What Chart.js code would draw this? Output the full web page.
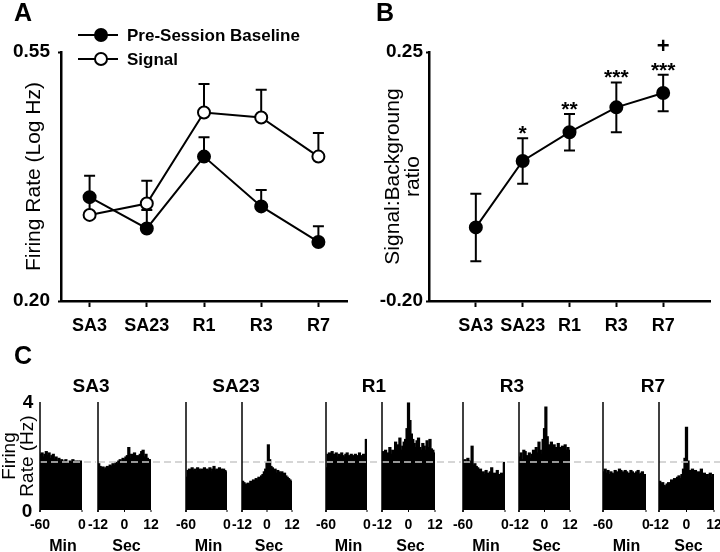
<!DOCTYPE html>
<html><head><meta charset="utf-8">
<script src="https://cdn.jsdelivr.net/npm/chart.js@4.4.1/dist/chart.umd.min.js"></script>
<style>
html,body{margin:0;padding:0;background:#fff;}
#root{position:relative;width:720px;height:552px;overflow:hidden;font-family:"Liberation Sans",Arial,sans-serif;color:#000;}
canvas{position:absolute;}
.t{position:absolute;white-space:nowrap;line-height:1;transform:translate(-50%,-50%);}
.b{font-weight:bold;}
.n{font-family:"Liberation Sans Narrow","Liberation Sans",Arial,sans-serif;font-weight:bold;}
</style></head><body><div id="root"></div>
<script>
// ---------- data ----------
const categories = ['SA3','SA23','R1','R3','R7'];
const baselineMean = [0.346,0.302,0.403,0.333,0.283];
const baselineSEM  = [0.030,0.026,0.027,0.023,0.022];
const signalMean   = [0.321,0.337,0.465,0.458,0.403];
const signalSEM    = [0.025,0.032,0.040,0.039,0.033];
const ratioMean    = [-0.067,0.053,0.105,0.150,0.176];
const ratioSEM     = [0.061,0.041,0.033,0.045,0.033];
const sigStars     = ['','*','**','***','***'];
const sigPlus      = ['','','','','+'];
const yTicksA = [0.20,0.55];
const yTicksB = [-0.20,0.25];
const histMinTicks = ['-60','0'];
const histSecTicks = ['-12','0','12'];
const histYTicks = ['0','4'];
const psthBaseline = 1.78;

const sa3Min  = [2.05,2.1,1.95,2.05,2.15,2.0,2.1,1.9,2.0,2.05,1.85,1.95,1.8,1.9,1.75,1.85,1.7,1.8,1.85,1.75,1.7,1.8,1.75,1.85,1.7,1.8,1.75,1.8,1.7,1.8];
const sa3Sec  = [1.7,1.6,1.55,1.58,1.5,1.55,1.6,1.55,1.65,1.6,1.7,1.65,1.75,1.7,1.8,1.85,1.75,1.9,1.85,1.95,2.0,2.3,1.9,2.05,1.95,2.1,1.9,2.0,1.95,2.05,2.15,2.2,1.95,2.05,1.9,1.85,1.85];
const sa23Min = [1.2,1.45,1.5,1.4,1.55,1.45,1.5,1.4,1.55,1.5,1.45,1.5,1.4,1.55,1.45,1.5,1.45,1.55,1.4,1.5,1.6,1.45,1.5,1.4,1.55,1.5,1.4,1.5,1.45,1.4];
const sa23Sec = [1.05,1.0,0.95,0.92,0.98,0.95,1.05,1.0,1.1,1.05,1.15,1.1,1.2,1.15,1.25,1.3,1.4,1.5,1.75,2.4,1.85,1.6,1.55,1.45,1.5,1.35,1.45,1.4,1.35,1.4,1.3,1.35,1.25,1.2,1.15,1.1,1.05];
const r1Min   = [1.55,2.05,2.1,2.0,2.15,2.05,2.0,2.1,1.95,2.05,2.0,2.1,2.0,1.95,2.05,2.1,2.0,1.95,2.05,2.0,1.9,2.05,2.0,1.95,2.1,2.0,1.95,2.05,2.0,2.6];
const r1Sec   = [2.15,2.05,2.2,2.0,2.1,2.3,2.05,2.2,1.95,2.5,2.1,2.4,2.65,2.2,2.35,2.5,2.6,3.0,3.95,3.3,2.8,2.6,2.45,2.3,2.55,2.65,2.3,2.2,2.45,2.35,2.2,2.55,2.3,2.6,2.25,2.2,2.1];
const r3Min   = [1.8,1.85,1.75,1.9,1.8,1.7,2.35,1.65,1.7,1.6,1.55,1.45,1.5,1.35,1.4,1.3,1.45,1.35,1.25,1.4,1.55,1.3,1.35,1.25,1.45,1.3,1.2,1.35,1.25,1.75];
const r3Sec   = [1.95,2.1,1.85,2.2,2.15,2.0,1.8,2.1,1.9,2.05,2.2,2.0,2.3,2.1,2.5,2.2,2.05,2.6,3.0,3.8,2.7,2.4,2.3,2.5,2.2,2.4,2.3,2.15,2.45,2.3,2.2,2.35,2.1,2.4,2.2,2.3,2.2];
const r7Min   = [1.4,1.5,1.35,1.45,1.3,1.4,1.35,1.3,1.45,1.4,1.35,1.5,1.45,1.4,1.35,1.45,1.4,1.3,1.35,1.45,1.4,1.3,1.35,1.4,1.45,1.3,1.35,1.4,1.25,1.3];
const r7Sec   = [1.05,0.95,1.0,0.9,0.85,0.95,1.0,0.95,1.1,1.05,1.15,1.0,1.2,1.25,1.15,1.3,1.5,1.9,3.05,1.8,1.45,1.35,1.5,1.3,1.45,1.2,1.4,1.3,1.5,1.25,1.35,1.2,1.3,1.15,1.35,1.2,1.3];

// ---------- layout ----------
const root = document.getElementById('root');
const FONT = '"Liberation Sans", Arial, sans-serif';
Chart.defaults.font.family = FONT;
Chart.defaults.color = '#000';

function mkCanvas(left, top, w, h){
  const c = document.createElement('canvas');
  c.width = w; c.height = h;
  c.style.left = left+'px'; c.style.top = top+'px';
  c.style.width = w+'px'; c.style.height = h+'px';
  root.appendChild(c); return c;
}
function txt(s, x, y, cls, size, extra){
  const d = document.createElement('div');
  d.className = 't ' + (cls||'');
  d.textContent = s;
  d.style.left = x+'px'; d.style.top = y+'px';
  d.style.fontSize = size+'px';
  if (extra) Object.assign(d.style, extra);
  root.appendChild(d); return d;
}

const errorBars = {
  id:'errorBars',
  beforeDatasetsDraw(chart, args, opts){
    const ctx = chart.ctx, xs = chart.scales.x, ys = chart.scales.y;
    chart.data.datasets.forEach(ds=>{
      if(!ds.errors) return;
      ctx.save(); ctx.strokeStyle='#000'; ctx.lineWidth=opts.lineWidth||2;
      ds.data.forEach((p,i)=>{
        const x = xs.getPixelForValue(p.x);
        const yT = ys.getPixelForValue(p.y+ds.errors[i]);
        const yB = ys.getPixelForValue(ds.twoSided ? p.y-ds.errors[i] : p.y);
        const cap = opts.cap||5;
        ctx.beginPath();
        ctx.moveTo(x,yT); ctx.lineTo(x,yB);
        ctx.moveTo(x-cap,yT); ctx.lineTo(x+cap,yT);
        if(ds.twoSided){ ctx.moveTo(x-cap,yB); ctx.lineTo(x+cap,yB); }
        ctx.stroke();
      });
      ctx.restore();
    });
  }
};

function lineChart(canvas, datasets, yMin, yMax, yTicks, yWidth, xMin, xMax, rightPad, titleText, titlePadTop, titleLH, yTickPad){
  return new Chart(canvas, {
    type:'line',
    data:{datasets},
    options:{
      responsive:false, animation:false, events:[],
      layout:{padding:{top:52,right:rightPad,left:0,bottom:0}},
      plugins:{legend:{display:false}, tooltip:{enabled:false}, errorBars:{cap:5.5,lineWidth:2}},
      scales:{
        x:{type:'linear',min:xMin,max:xMax,
           afterBuildTicks:a=>{a.ticks=categories.map((c,i)=>({value:i+1}));},
           afterFit:s=>{s.height=44;},
           ticks:{callback:v=>categories[v-1]||'', font:{size:18,weight:'bold'}, color:'#000', padding:8, autoSkip:false, maxRotation:0},
           grid:{display:true,drawOnChartArea:false,drawTicks:true,tickLength:6,tickWidth:2,tickColor:'#000'},
           border:{display:true,color:'#000',width:2.5}},
        y:{min:yMin,max:yMax,
           afterBuildTicks:a=>{a.ticks=yTicks.map(v=>({value:v}));},
           afterFit:s=>{s.width=yWidth;},
           ticks:{callback:v=>v.toFixed(2), font:{size:19,weight:'bold'}, color:'#000', padding:yTickPad},
           grid:{display:true,drawOnChartArea:false,tickLength:3,tickWidth:2,tickColor:'#000'},
           border:{display:true,color:'#000',width:2.5},
           title:{display:true,text:titleText,font:{size:21,lineHeight:titleLH},color:'#000',padding:{top:titlePadTop,bottom:0}}}
      }
    },
    plugins:[errorBars]
  });
}

// Panel A
const cA = mkCanvas(0,0,360,345);
lineChart(cA, [
  {label:'Pre-Session Baseline', data:categories.map((c,i)=>({x:i+1,y:baselineMean[i]})), errors:baselineSEM,
   borderColor:'#000',borderWidth:2,pointRadius:6,pointBackgroundColor:'#000',pointBorderColor:'#000',pointBorderWidth:2,tension:0},
  {label:'Signal', data:categories.map((c,i)=>({x:i+1,y:signalMean[i]})), errors:signalSEM,
   borderColor:'#000',borderWidth:2,pointRadius:6,pointBackgroundColor:'#fff',pointBorderColor:'#000',pointBorderWidth:2,tension:0}
], 0.20, 0.55, yTicksA, 61, 0.5, 5.5, 13, 'Firing Rate (Log Hz)', 22, 1.2, 8);

// Panel B
const cB = mkCanvas(360,0,360,345);
const chartB = lineChart(cB, [
  {label:'Signal:Background ratio', data:categories.map((c,i)=>({x:i+1,y:ratioMean[i]})), errors:ratioSEM, twoSided:true,
   borderColor:'#000',borderWidth:2,pointRadius:6,pointBackgroundColor:'#000',pointBorderColor:'#000',pointBorderWidth:2,tension:0}
], -0.20, 0.25, yTicksB, 69, 0, 6, 10, ['Signal:Backgroung','ratio'], 23, 0.95, 3);

// significance marks, placed with chart B's scales
categories.forEach((c,i)=>{
  const x = 360 + chartB.scales.x.getPixelForValue(i+1);
  const yTop = chartB.scales.y.getPixelForValue(ratioMean[i]+ratioSEM[i]);
  if (sigStars[i]) txt(sigStars[i], x, yTop-6, 'b', 21);
  if (sigPlus[i]) txt(sigPlus[i], x, yTop-29, 'b', 22);
});

// Legend A
const svgNS='http://www.w3.org/2000/svg';
const lg=document.createElementNS(svgNS,'svg');
lg.setAttribute('width','140');lg.setAttribute('height','80');
lg.style.position='absolute';lg.style.left='0';lg.style.top='0';
[[35,'#000'],[59,'#fff']].forEach(([y,fill])=>{
  const l=document.createElementNS(svgNS,'line');
  l.setAttribute('x1','78');l.setAttribute('x2','118');l.setAttribute('y1',y);l.setAttribute('y2',y);
  l.setAttribute('stroke','#000');l.setAttribute('stroke-width','2');lg.appendChild(l);
  const c=document.createElementNS(svgNS,'circle');
  c.setAttribute('cx','101');c.setAttribute('cy',y);c.setAttribute('r','6');
  c.setAttribute('fill',fill);c.setAttribute('stroke','#000');c.setAttribute('stroke-width','2');lg.appendChild(c);
});
root.appendChild(lg);
txt('Pre-Session Baseline',127,35,'b',17,{transform:'translate(0,-50%)'});
txt('Signal',127,59,'b',17,{transform:'translate(0,-50%)'});

// Panel letters
txt('A',23,12,'b',25);
txt('B',385,12,'b',25);
txt('C',23,355,'b',25);

// ---------- Panel C: PSTHs ----------
const sessions = [
  {title:'SA3',  min:sa3Min,  sec:sa3Sec},
  {title:'SA23', min:sa23Min, sec:sa23Sec},
  {title:'R1',   min:r1Min,   sec:r1Sec},
  {title:'R3',   min:r3Min,   sec:r3Sec},
  {title:'R7',   min:r7Min,   sec:r7Sec}
];
// pixel extents of each histogram (layout only)
const histBox = [[40,82],[98,151],[186,227],[242,292],[326,367],[382,435],[463,505],[519,570],[603,646],[659,714]];
const titleX = [91,236,374,512,653];
const H_TOP = 396, H_H = 116;

const histDecor = {
  id:'histDecor',
  afterDatasetsDraw(chart, args, opts){
    const ctx=chart.ctx, ys=chart.scales.y, a=chart.chartArea;
    const yb = ys.getPixelForValue(psthBaseline);
    ctx.save();
    ctx.strokeStyle='#c9c9c9'; ctx.lineWidth=1.5; ctx.setLineDash([7,4]);
    ctx.beginPath(); ctx.moveTo(a.left, yb); ctx.lineTo(chart.width, yb); ctx.stroke();
    ctx.setLineDash([]);
    ctx.strokeStyle='#000'; ctx.lineWidth=1.5;
    const y0 = ys.getPixelForValue(0), y4 = ys.getPixelForValue(4);
    ctx.beginPath(); ctx.moveTo(a.left, y0+3); ctx.lineTo(a.left, y4); ctx.stroke();
    const ticks = opts.nTicks===3 ? [a.left,(a.left+a.right)/2,a.right] : [a.left,a.right];
    ctx.lineWidth=1;
    ticks.forEach(x=>{ ctx.beginPath(); ctx.moveTo(x,y0); ctx.lineTo(x,y0+3); ctx.stroke(); });
    ctx.restore();
  }
};

const allHists = [];
sessions.forEach(s=>{ allHists.push({data:s.min,kind:'min'}); allHists.push({data:s.sec,kind:'sec'}); });
allHists.forEach((h,k)=>{
  const [l,r] = histBox[k];
  const nextL = k<histBox.length-1 ? histBox[k+1][0] : 722;
  const cl = l-2, w = nextL - l;
  const cv = mkCanvas(cl, H_TOP, w, H_H);
  new Chart(cv, {
    type:'bar',
    data:{labels:h.data.map((v,i)=>i), datasets:[{data:h.data, backgroundColor:'#000', borderWidth:0, inflateAmount:0.9, barPercentage:1, categoryPercentage:1}]},
    options:{
      responsive:false, animation:false, events:[],
      layout:{padding:{left:2, right:(cl+w)-r, top:6, bottom:2}},
      plugins:{legend:{display:false},tooltip:{enabled:false},histDecor:{nTicks:h.kind==='sec'?3:2}},
      scales:{x:{display:false}, y:{display:false,min:0,max:4}}
    },
    plugins:[histDecor]
  });
  const labels = h.kind==='min' ? histMinTicks : histSecTicks;
  const xs = h.kind==='min' ? [l,r] : [l,(l+r)/2,r];
  labels.forEach((s,i)=>txt(s, xs[i], 524, 'n', 14));
  txt(h.kind==='min'?'Min':'Sec', (l+r)/2+2, 546, 'b', 16);
});
sessions.forEach((s,i)=>txt(s.title, titleX[i], 385, 'b', 19));

txt(histYTicks[1], 28, 401, 'b', 19);
txt(histYTicks[0], 27, 510, 'b', 19);
const yl = txt('', 18, 456, '', 19, {transform:'translate(-50%,-50%) rotate(-90deg)', lineHeight:'18px', textAlign:'center', whiteSpace:'pre'});
yl.textContent = 'Firing\nRate (Hz)';
</script></body></html>
